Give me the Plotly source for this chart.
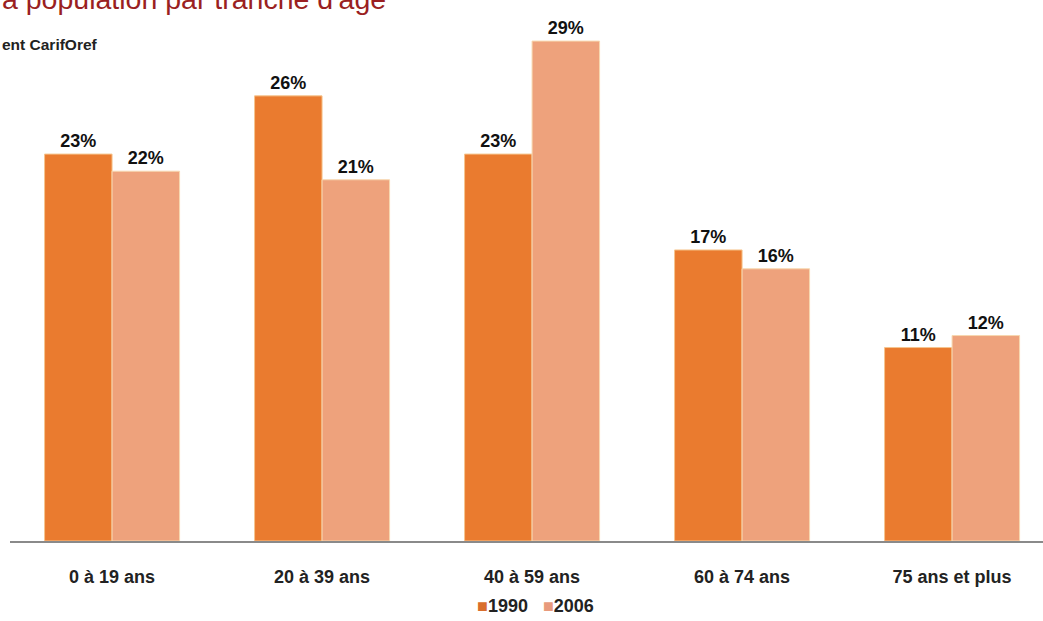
import plotly.graph_objects as go

categories = ["0 à 19 ans", "20 à 39 ans", "40 à 59 ans", "60 à 74 ans", "75 ans et plus"]
values_1990 = [22.6, 26.0, 22.6, 17.0, 11.3]
values_2006 = [21.6, 21.1, 29.2, 15.9, 12.0]
series_names = ["1990", "2006"]
title_text = "a population par tranche d'âge"
source_text = "ent CarifOref"

FONT = "Liberation Sans"
COLORS = ["#EA7B2F", "#EEA27C"]
EDGES = ["#F6C58E", "#F7D8B0"]
LEGEND_SWATCH = ["#D96E2C", "#E89A7C"]

fig = go.Figure()
for name, vals, col, edge in zip(series_names, [values_1990, values_2006], COLORS, EDGES):
    fig.add_trace(go.Bar(
        name=name, x=categories, y=vals,
        marker=dict(color=col, line=dict(color=edge, width=1)),
        text=[f"{round(v)}%" for v in vals],
        textposition="outside",
        textfont=dict(family=FONT, size=18, color="#111111", weight="bold"),
        cliponaxis=False,
    ))

fig.update_layout(
    width=1043, height=621,
    margin=dict(l=10, r=0, t=0, b=80),
    paper_bgcolor="white", plot_bgcolor="white",
    barmode="group", bargap=0.357, bargroupgap=0,
    showlegend=False,
    font=dict(family=FONT),
)
fig.update_xaxes(
    range=[-0.486, 4.433],
    showline=True, linecolor="#8A8A8A", linewidth=2,
    showgrid=False, zeroline=False,
    ticks="outside", ticklen=18, tickcolor="rgba(0,0,0,0)",
    tickfont=dict(family=FONT, size=18, color="#222222", weight="bold"),
)
fig.update_yaxes(range=[0, 31.6], visible=False, showgrid=False)

# title (cropped at top as in the reference)
fig.add_annotation(
    text=title_text, xref="paper", yref="paper",
    x=-10/1033, y=1 + 1/541, xanchor="left", yanchor="middle",
    showarrow=False, font=dict(family=FONT, size=28.5, color="#9A1F22"),
)
fig.add_annotation(
    text=source_text, xref="paper", yref="paper",
    x=-10/1033, y=1 - 44/541, xanchor="left", yanchor="middle",
    showarrow=False, font=dict(family=FONT, size=15.5, color="#222222", weight="bold"),
)

# legend drawn as text with coloured swatches
legend_html = "\u00a0\u00a0\u00a0".join(
    f"<span style='color:{c};font-size:18px'>■</span>{n}" for n, c in zip(series_names, LEGEND_SWATCH)
)
fig.add_annotation(
    text=legend_html, xref="paper", yref="paper",
    x=(535 - 10)/1033, y=-(606 - 541)/541, xanchor="center", yanchor="middle",
    showarrow=False, font=dict(family=FONT, size=18, color="#222222", weight="bold"),
)

fig.write_html("out.html", config={"displayModeBar": False},
               post_script="document.body.style.margin='0';")
